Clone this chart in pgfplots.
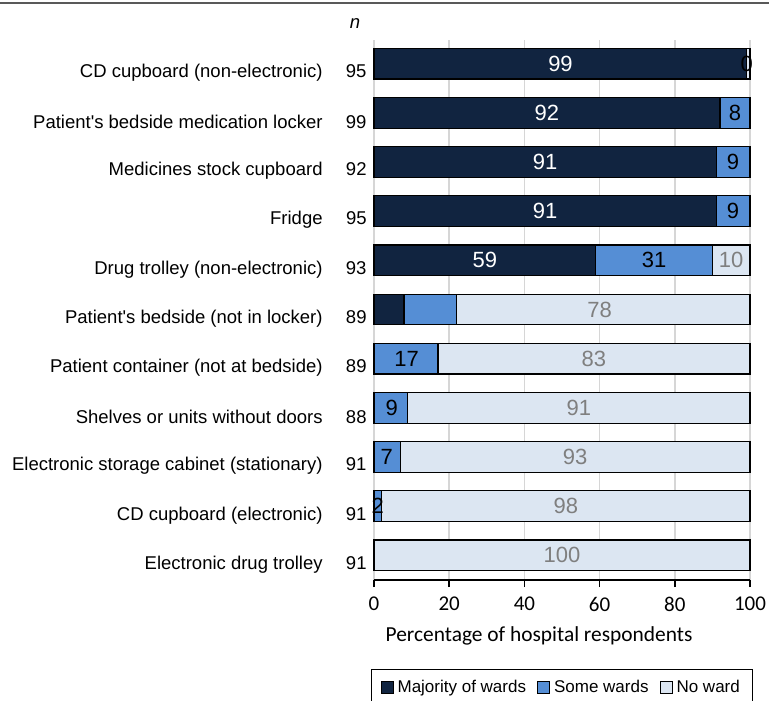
\documentclass[border=0pt]{standalone}
\usepackage{pgfplots}
\pgfplotsset{compat=1.18}
\usepackage{pgfplotstable}
\usepackage{fontspec}
\setmainfont{Liberation Sans}
\newfontfamily\carlito{Carlito}
\definecolor{cMaj}{HTML}{112440}
\definecolor{cSome}{HTML}{558ED5}
\definecolor{cNo}{HTML}{DCE6F2}
\definecolor{cGray}{HTML}{7F7F7F}

% segment values: majority of wards, some wards, no ward
\pgfplotstableread{
y maj some none
0 99 0 1
1 92 8 0
2 91 9 0
3 91 9 0
4 59 31 10
5 8 14 78
6 0 17 83
7 0 9 91
8 0 7 93
9 0 2 98
10 0 0 100
}\data

% label positions (centre of each labelled segment) and texts
\pgfplotstableread{
x y l
49.6 0 99
46 1 92
45.5 2 91
45.5 3 91
29.5 4 59
}\majlab
\pgfplotstableread{
x y l
99.1 0 0
96 1 8
95.5 2 9
95.5 3 9
74.5 4 31
8.7 6 17
4.7 7 9
3.4 8 7
1 9 2
}\somelab
\pgfplotstableread{
x y l
95 4 10
60 5 78
58.5 6 83
54.5 7 91
53.5 8 93
51 9 98
50 10 100
}\nonelab

\newcommand{\nn}[1]{\makebox[22pt][r]{#1}}
\newcommand{\q}{\textquotesingle}

\pgfplotsset{
  common/.style={
    at={(0,0)}, anchor=south west,
    width=188pt, height=270pt, scale only axis,
    xmin=0, xmax=100, ymin=-0.48, ymax=10.5, y dir=reverse,
    clip=false,
  },
}

\begin{document}
\begin{tikzpicture}
\begin{axis}[
  common,
  xbar stacked, bar width=15.35pt,
  xtick={0,20,40,60,80,100},
  ytick={0,...,10},
  yticklabels={
    {CD cupboard (non-electronic)\nn{95}},
    {Patient\q s bedside medication locker\nn{99}},
    {Medicines stock cupboard\nn{92}},
    {Fridge\nn{95}},
    {Drug trolley (non-electronic)\nn{93}},
    {Patient\q s bedside (not in locker)\nn{89}},
    {Patient container (not at bedside)\nn{89}},
    {Shelves or units without doors\nn{88}},
    {Electronic storage cabinet (stationary)\nn{91}},
    {CD cupboard (electronic)\nn{91}},
    {Electronic drug trolley\nn{91}}},
  xmajorgrids, grid style={black!16, line width=0.7pt},
  axis x line*=bottom, axis y line*=left,
  x axis line style={black, line width=1.1pt, -},
  y axis line style={draw=none},
  xtick style={black, line width=0.8pt}, tick align=outside, major tick length=3.5pt,
  ytick style={draw=none},
  /pgf/number format/assume math mode=true,
  xticklabel style={font=\carlito\fontsize{10.5}{12}\selectfont, yshift=-1.5pt},
  yticklabel style={font=\fontsize{9.25}{11}\selectfont, inner sep=0pt, xshift=0pt, yshift=-4.5pt},
  xlabel={Percentage of hospital respondents},
  xlabel style={font=\carlito\fontsize{10.7}{12}\selectfont, at={(axis description cs:0.439,-0.104)}, anchor=center},
  legend style={at={(axis description cs:-0.008,-0.165)}, anchor=north west,
    draw=black, line width=0.6pt, font=\fontsize{8.5}{10}\selectfont,
    inner xsep=4.5pt, inner ysep=3pt,
    /tikz/every even column/.append style={column sep=3.5pt}},
  legend columns=3,
  legend image code/.code={\draw[#1, draw=black, line width=0.5pt] (0pt,-3pt) rectangle (6pt,3pt);},
]
\addplot[fill=cMaj, draw=black, line width=0.6pt] table[x=maj, y=y] {\data};
\addplot[fill=cSome, draw=black, line width=0.6pt] table[x=some, y=y] {\data};
\addplot[fill=cNo, draw=black, line width=0.6pt] table[x=none, y=y] {\data};
\legend{Majority of wards, Some wards, No ward}
\end{axis}
\begin{axis}[common, hide axis,
  nodes near coords, point meta=explicit symbolic,
  every node near coord/.append style={font=\fontsize{11}{12}\selectfont, anchor=center, inner sep=0pt}]
\addplot[only marks, mark=none, every node near coord/.append style={text=white}]
  table[x=x, y=y, meta=l] {\majlab};
\addplot[only marks, mark=none, every node near coord/.append style={text=black}]
  table[x=x, y=y, meta=l] {\somelab};
\addplot[only marks, mark=none, every node near coord/.append style={text=cGray}]
  table[x=x, y=y, meta=l] {\nonelab};
\end{axis}
\draw[black!65, line width=1.1pt] (-187pt,288.5pt) -- (197.5pt,288.5pt);
\node[font=\itshape\fontsize{9.25}{11}\selectfont] at (-9.5pt,278pt) {n};
\pgfresetboundingbox
\path[use as bounding box] (-187pt,-60pt) rectangle (197.5pt,290pt);
\end{tikzpicture}
\end{document}
